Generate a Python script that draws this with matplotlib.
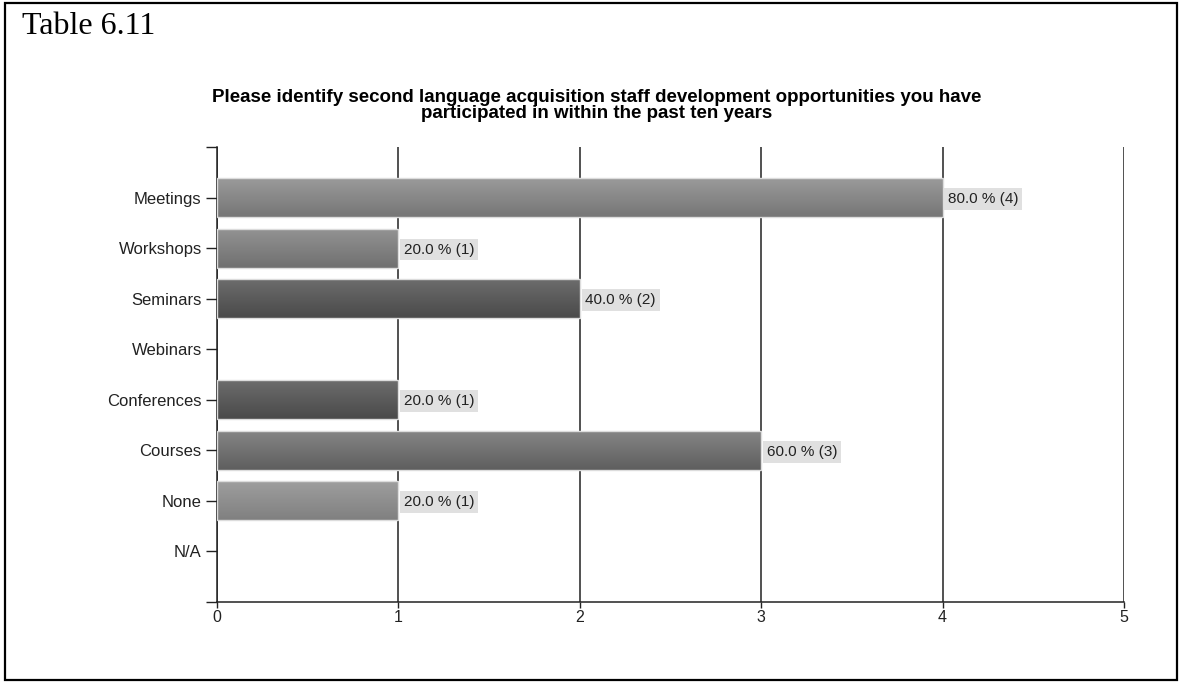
import numpy as np
import matplotlib
matplotlib.use("Agg")
import matplotlib.pyplot as plt
from matplotlib.colors import LinearSegmentedColormap
from matplotlib.patches import Rectangle

# --- data ---
categories = ["Meetings", "Workshops", "Seminars", "Webinars",
              "Conferences", "Courses", "None", "N/A"]
counts = [4, 1, 2, 0, 1, 3, 1, 0]
percents = [80.0, 20.0, 40.0, 0.0, 20.0, 60.0, 20.0, 0.0]
title_lines = ["Please identify second language acquisition staff development opportunities you have",
               "participated in within the past ten years"]

# gradient (top, bottom) per bar
bar_shades = [("#9a9a9a", "#767676"), ("#929292", "#707070"),
              ("#6c6c6c", "#4a4a4a"), ("#6c6c6c", "#4a4a4a"),
              ("#6c6c6c", "#4a4a4a"), ("#858585", "#5e5e5e"),
              ("#9e9e9e", "#808080"), ("#9e9e9e", "#808080")]

plt.rcParams['font.family'] = ['Liberation Sans', 'DejaVu Sans']

W, H = 1182, 683
fig = plt.figure(figsize=(W / 100, H / 100), dpi=100)
ax = fig.add_axes([217 / W, 1 - 602 / H, (1124 - 217) / W, (602 - 147) / H])

bh = 0.77
grad = np.linspace(0, 1, 64).reshape(-1, 1)
for i, (c, v) in enumerate(zip(categories, counts)):
    if v <= 0:
        continue
    cm = LinearSegmentedColormap.from_list("g", bar_shades[i])
    ax.imshow(grad, cmap=cm, aspect="auto", interpolation="bilinear",
              extent=[0, v, i + bh / 2, i - bh / 2], zorder=3)
    ax.add_patch(Rectangle((0, i - bh / 2), v, bh, fill=False,
                           edgecolor="#dcdcdc", lw=1, zorder=4))
    ax.annotate(f"{percents[i]:.1f} % ({v})", (v, i), xytext=(4, -1),
                textcoords="offset points", ha="left", va="center",
                fontsize=11, color="#222222", zorder=5,
                bbox=dict(boxstyle="square,pad=0.25", fc="#e0e0e0", ec="none"))

ax.set_xlim(0, 5)
ax.set_ylim(8, -1)
ax.set_xticks(range(6))
ax.set_yticks(range(len(categories)))
ax.set_yticklabels(categories)
ax.set_yticks([-1, 8], minor=True)
ax.tick_params(axis="y", which="both", direction="out", length=8,
               width=1, color="#222222", labelsize=12, pad=3)
ax.tick_params(axis="x", direction="out", length=4, width=1,
               color="#222222", labelsize=11.5, pad=2)
for lab in ax.get_yticklabels() + ax.get_xticklabels():
    lab.set_color("#222222")

ax.grid(axis="x", color="#222222", lw=1.1, zorder=1)
ax.grid(axis="y", visible=False)
for s in ["top", "right"]:
    ax.spines[s].set_visible(False)
for s in ["left", "bottom"]:
    ax.spines[s].set_color("#222222")
    ax.spines[s].set_linewidth(1.1)
ax.set_axisbelow(True)

fig.text(0.505, 1 - 97 / H, title_lines[0], ha="center", va="center",
         fontsize=13.5, fontweight="bold")
fig.text(0.505, 1 - 113 / H, title_lines[1], ha="center", va="center",
         fontsize=13.5, fontweight="bold")
fig.text(22 / W, 1 - 27 / H, "Table 6.11", ha="left", va="center",
         fontsize=23, family="Liberation Serif")

fig.patches.append(Rectangle((5 / W, 3 / H), 1172 / W, 677 / H,
                             transform=fig.transFigure, fill=False,
                             edgecolor="black", lw=1.6))

fig.savefig("out.png", dpi=100)
